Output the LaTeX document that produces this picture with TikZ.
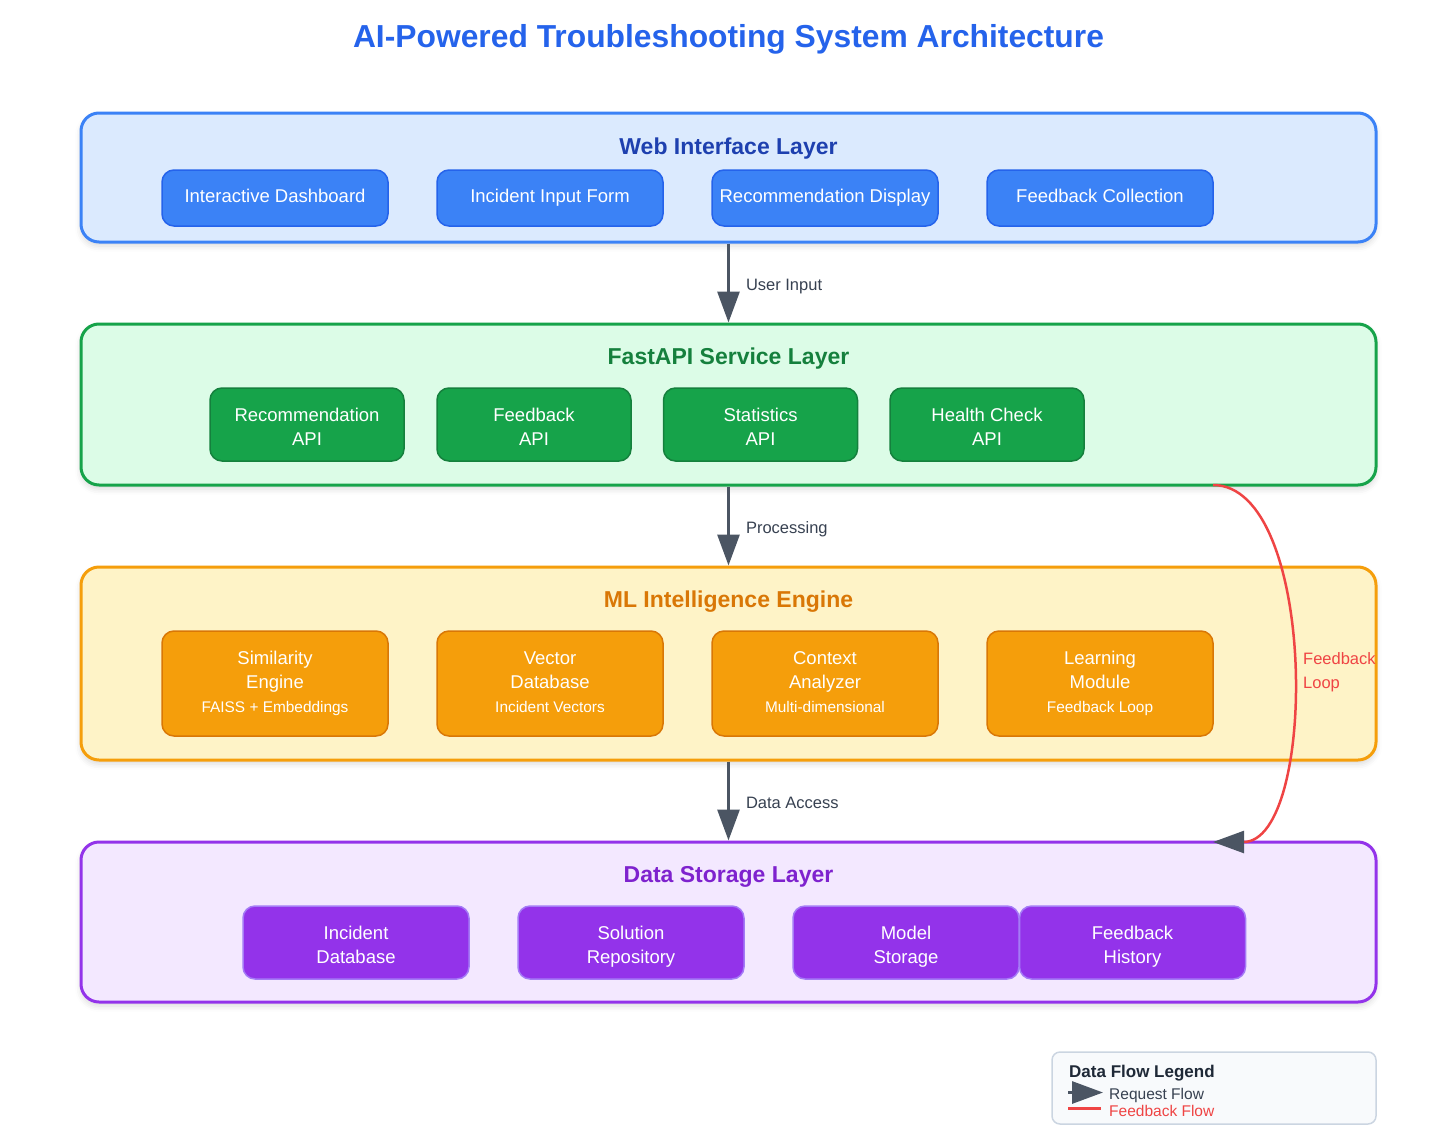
\documentclass[tikz,border=0pt]{standalone}
\usepackage{fontspec}
\setmainfont{Liberation Sans}
\usetikzlibrary{arrows.meta,positioning,shadows.blur}

\definecolor{titleblue}{HTML}{2563EB}
\definecolor{webfill}{HTML}{DBEAFE}
\definecolor{webline}{HTML}{3B82F6}
\definecolor{webtext}{HTML}{1E40AF}
\definecolor{apifill}{HTML}{DCFCE7}
\definecolor{apiline}{HTML}{16A34A}
\definecolor{apitext}{HTML}{15803D}
\definecolor{mlfill}{HTML}{FEF3C7}
\definecolor{mlline}{HTML}{F59E0B}
\definecolor{mltext}{HTML}{D97706}
\definecolor{dbfill}{HTML}{F3E8FF}
\definecolor{dbline}{HTML}{9333EA}
\definecolor{dbtext}{HTML}{7E22CE}
\definecolor{flowgray}{HTML}{4B5563}
\definecolor{labelgray}{HTML}{374151}
\definecolor{fbred}{HTML}{EF4444}
\definecolor{legfill}{HTML}{F8FAFC}
\definecolor{legline}{HTML}{CBD5E1}
\definecolor{legtext}{HTML}{1F2937}

\begin{document}
\begin{tikzpicture}[x=1pt, y=-1pt,
  flow/.style={draw=flowgray, line width=3pt, -{Triangle[length=31pt,width=22pt]}},
  fbline/.style={draw=fbred, line width=2.5pt, -{Triangle[length=31pt,width=22pt,color=flowgray]}},
  layer/.style={line width=3pt, rounded corners=18pt, minimum width=1295pt,
    blur shadow={shadow xshift=0pt, shadow yshift=-4pt, shadow blur radius=6pt, shadow opacity=15}},
  laytitle/.style={font=\fontsize{23}{28}\selectfont\bfseries},
  item/.style={line width=1.5pt, rounded corners=12pt, text=white, align=center,
    inner sep=2pt, font=\fontsize{18.5}{24}\selectfont},
  oneline/.style={execute at begin node={\rule[-7.5pt]{0pt}{24pt}}},
  twoline/.style={execute at begin node={\rule[-4.5pt]{0pt}{50pt}}},
  threeline/.style={execute at begin node={\rule[-5pt]{0pt}{67pt}}},
  flowlabel/.style={text=labelgray, inner sep=0pt, font=\fontsize{16.5}{20}\selectfont}]
\useasboundingbox (0,0) rectangle (1456,1132);

\node[font=\fontsize{31.8}{36}\selectfont\bfseries, text=titleblue] (title) at (728.5,39)
  {AI-Powered Troubleshooting System Architecture};

% layers
\node[layer, draw=webline, fill=webfill, minimum height=129pt] (web) at (728.5,177.5) {};
\node[laytitle, text=webtext] (webtitle) at (728.5,149) {Web Interface Layer};
\foreach \x/\t [count=\i] in {275/Interactive Dashboard, 550/Incident Input Form,
    825/Recommendation Display, 1100/Feedback Collection}
  \node[item, oneline, fill=webline, draw=titleblue, minimum width=226pt, minimum height=56pt] (web\i) at (\x,198) {\t};

\node[layer, draw=apiline, fill=apifill, minimum height=161pt] (api) at (728.5,404.5) {};
\node[laytitle, text=apitext] (apititle) at (728.5,359) {FastAPI Service Layer};
\foreach \x/\t [count=\i] in {307/Recommendation, 534/Feedback, 760.5/Statistics, 987/Health Check}
  \node[item, twoline, fill=apiline, draw=apitext, minimum width=194pt, minimum height=73pt] (api\i) at (\x,424.5) {\t\\API};

\node[layer, draw=mlline, fill=mlfill, minimum height=193pt] (ml) at (728.5,663.5) {};
\node[laytitle, text=mltext] (mltitle) at (728.5,602) {ML Intelligence Engine};
\foreach \x/\t/\s [count=\i] in {275/Similarity\\Engine/FAISS + Embeddings,
    550/Vector\\Database/Incident Vectors, 825/Context\\Analyzer/Multi-dimensional,
    1100/Learning\\Module/Feedback Loop}
  \node[item, threeline, fill=mlline, draw=mltext, minimum width=226pt, minimum height=105pt] (ml\i) at (\x,683.5)
    {\t\\{\fontsize{15.4}{24}\selectfont\s}};

\node[layer, draw=dbline, fill=dbfill, minimum height=160pt] (db) at (728.5,922) {};
\node[laytitle, text=dbtext] (dbtitle) at (728.5,877) {Data Storage Layer};
\foreach \x/\t [count=\i] in {356/Incident\\Database, 631/Solution\\Repository,
    906/Model\\Storage, 1132.5/Feedback\\History}
  \node[item, twoline, fill=dbline, draw=dbline!70!blue!60!white, minimum width=226pt, minimum height=73pt] (db\i) at (\x,942.5) {\t};

% flows
\draw[flow] (web.south) -- node[flowlabel, right=16pt, yshift=-4pt] {User Input} (api.north);
\draw[flow] (api.south) -- node[flowlabel, right=16pt, yshift=-3pt] {Processing} (ml.north);
\draw[flow] (ml.south) -- node[flowlabel, right=16pt, yshift=-2pt] {Data Access} (db.north);

\coordinate (fbstart) at (1213,485);
\coordinate (fbend) at (1213,842);
\draw[fbline] (fbstart) .. controls (1318,485) and (1318,842) .. (fbend);
\node[flowlabel, text=fbred, anchor=west, align=left, font=\fontsize{16.5}{24}\selectfont] (fbtext) at (1303,672) {Feedback\\Loop};

% legend
\node[draw=legline, fill=legfill, line width=1.5pt, rounded corners=8pt,
  minimum width=324pt, minimum height=72pt] (legend) at (1214,1088) {};
\node[anchor=west, inner sep=0pt, text=legtext, font=\fontsize{17}{20}\selectfont\bfseries] (legtitle) at (1069,1073) {Data Flow Legend};
\coordinate (reqa) at (1068,1092.5);
\coordinate (reqb) at (1103,1092.5);
\draw[flow] (reqa) -- (reqb);
\node[flowlabel, anchor=west, font=\fontsize{15.5}{20}\selectfont] (reqtext) at (1109,1095) {Request Flow};
\coordinate (fba) at (1068,1108.5);
\coordinate (fbb) at (1101,1108.5);
\draw[fbred, line width=3pt] (fba) -- (fbb);
\node[flowlabel, text=fbred, anchor=west, font=\fontsize{15.5}{20}\selectfont] (fbflow) at (1109,1111) {Feedback Flow};

\end{tikzpicture}
\end{document}
